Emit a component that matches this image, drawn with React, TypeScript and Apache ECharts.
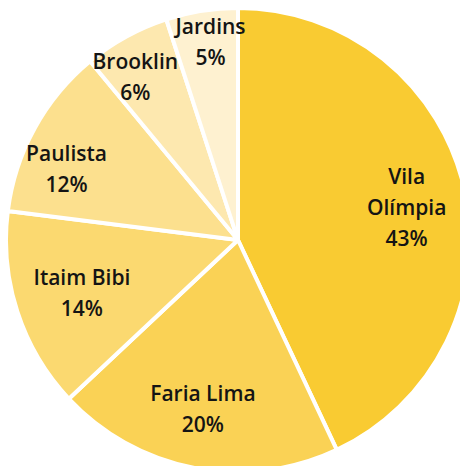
import React, { useEffect, useRef } from "react";
import * as echarts from "echarts";

const categories = ["Vila Olímpia", "Faria Lima", "Itaim Bibi", "Paulista", "Brooklin", "Jardins"];
const values = [43, 20, 14, 12, 6, 5];
const colors = ["#F9CB32", "#FAD255", "#FBD970", "#FCE08E", "#FDE8AF", "#FEF1D0"];
// label nudges (px) to mimic best-fit label placement
const labelNudge: [number, number][] = [[-9, 7], [-1, -10], [17, -4], [-12, 16], [-15, -4], [1, -19]];

export default function App() {
  const ref = useRef<HTMLDivElement>(null);
  useEffect(() => {
    document.body.style.margin = "0";
    const chart = echarts.init(ref.current!, null, { renderer: "svg" });
    const center = [238, 240];
    chart.setOption({
      animation: false,
      series: [
        {
          type: "pie",
          center,
          radius: [0, 232],
          startAngle: 90,
          clockwise: true,
          silent: true,
          label: { show: false },
          labelLine: { show: false },
          itemStyle: { borderColor: "#ffffff", borderWidth: 4 },
          data: categories.map((name, i) => ({
            name,
            value: values[i],
            itemStyle: { color: colors[i] },
          })),
        },
        {
          type: "pie",
          center,
          radius: [128, 230],
          startAngle: 90,
          clockwise: true,
          silent: true,
          avoidLabelOverlap: false,
          labelLine: { show: false },
          labelLayout: { hideOverlap: false },
          itemStyle: { color: "rgba(0,0,0,0)" },
          label: {
            show: true,
            position: "inside",
            color: "#141414",
            fontFamily: "Open Sans",
            fontWeight: 600,
            fontSize: 21,
            lineHeight: 31,
            align: "center",
            formatter: (p: any) =>
              (p.name === "Vila Olímpia" ? "Vila\nOlímpia" : p.name) + "\n" + Math.round(p.percent) + "%",
          },
          data: categories.map((name, i) => ({
            name,
            value: values[i],
            label: { offset: labelNudge[i] },
          })),
        },
      ],
    });
    return () => chart.dispose();
  }, []);
  return <div ref={ref} style={{ width: 460, height: 466 }} />;
}
